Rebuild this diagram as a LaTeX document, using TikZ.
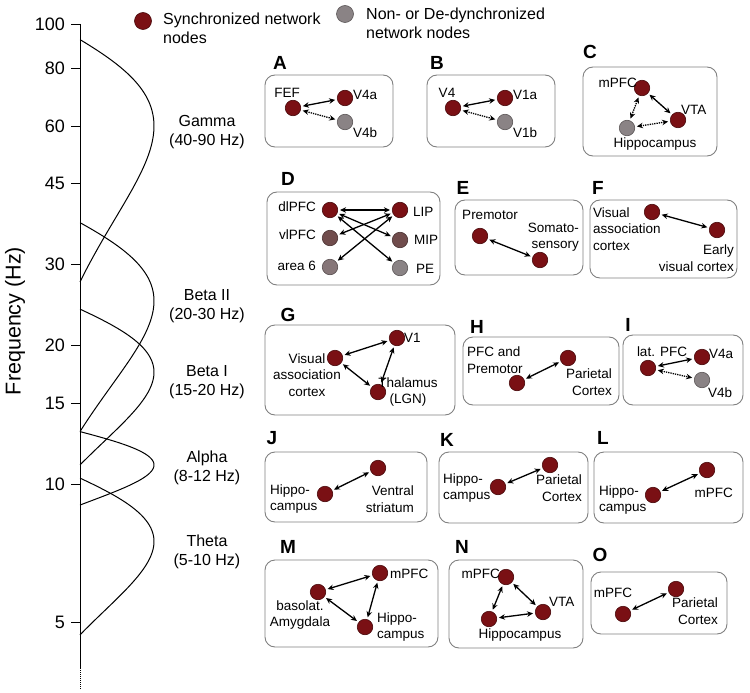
\documentclass[tikz,border=0pt]{standalone}
\usepackage{fontspec}
\setmainfont{Liberation Sans}
\usepackage{xcolor}
\definecolor{syncred}{RGB}{122,16,20}
\definecolor{syncedge}{RGB}{72,8,10}
\definecolor{desyncgray}{RGB}{138,131,133}
\definecolor{halfred}{RGB}{112,76,76}
\definecolor{halfgray}{RGB}{134,118,120}
\definecolor{framegray}{RGB}{128,128,128}
\usetikzlibrary{arrows.meta}

\begin{document}
\begin{tikzpicture}[x=1pt, y=-1pt,
  every node/.style={inner sep=0pt},
  txt/.style={font=\fontsize{13.5}{16.5}\selectfont},
  band/.style={font=\fontsize{16}{19}\selectfont, align=center},
  letter/.style={font=\fontsize{19}{19}\selectfont\bfseries},
  sync/.style={circle, fill=syncred, draw=syncedge, line width=0.6pt, minimum size=15.5pt},
  desync/.style={sync, fill=desyncgray, draw=desyncgray!65!black},
  frame/.style={draw=framegray, line width=0.9pt, rounded corners=10pt},
  link/.style={{Stealth[length=6pt,width=5.5pt]}-{Stealth[length=6pt,width=5.5pt]}, line width=1.3pt, shorten <=2pt, shorten >=2pt},
  dlink/.style={link, densely dotted},
  bump/.style={line width=1pt}]
  \useasboundingbox (0,0) rectangle (750,693);

  % frequency axis (log scale, 460 per decade)
  \draw[line width=1pt] (80,24) -- (80,668);
  \draw[line width=1pt, densely dotted] (80,668) -- (80,690);
  \foreach \f in {100,80,60,45,30,20,15,10,5} {
    \draw[line width=1pt] (71,{24+460*(2-log10(\f))}) -- (80,{24+460*(2-log10(\f))});
    \node[anchor=east, font=\fontsize{18}{18}\selectfont] (tick\f) at (65,{24+460*(2-log10(\f))}) {\f};
  }
  \node[rotate=90, font=\fontsize{21.5}{21.5}\selectfont] (ylab) at (15,321) {Frequency (Hz)};

  % band curves
  \foreach \fc/\hw in {60/32.5, 25/12, 17.5/6.5, 11/2, 7.5/2.8}
    \draw[bump] plot[domain=-1:1, samples=90, smooth, variable=\u] ({80+74*cos(90*\u)}, {24+460*(2-log10(\fc+\hw*\u))});

  \node[band] (gamma) at (207,132) {Gamma\\(40-90 Hz)};
  \node[band] (beta2) at (207,306) {Beta II\\(20-30 Hz)};
  \node[band] (beta1) at (207,382) {Beta I\\(15-20 Hz)};
  \node[band] (alpha) at (207,468) {Alpha\\(8-12 Hz)};
  \node[band] (theta) at (207,552) {Theta\\(5-10 Hz)};

  % legend
  \node[sync, minimum size=17pt] (legsync) at (143,21) {};
  \node[anchor=west, band, align=left] (legsynct) at (163,28) {Synchronized network\\nodes};
  \node[desync, minimum size=17pt] (legdesync) at (345,14) {};
  \node[anchor=west, band, align=left] (legdesynct) at (366,23) {Non- or De-dynchronized\\network nodes};

  % Panel A
  \draw[frame] (265,75) rectangle (393,147);
  \node[letter] (labA) at (280,63) {A};
  \node[sync] (fefA) at (293,108) {};
  \node[sync] (v4aA) at (345,98) {};
  \node[desync] (v4bA) at (345,122) {};
  \node[txt] (tfefA) at (287,93) {FEF};
  \node[txt, anchor=west] (tv4aA) at (353,95) {V4a};
  \node[txt, anchor=west] (tv4bA) at (353,133) {V4b};
  \draw[link] (fefA) -- (v4aA);
  \draw[dlink] (fefA) -- (v4bA);

  % Panel B
  \draw[frame] (427,75) rectangle (555,147);
  \node[letter] (labB) at (437,63) {B};
  \node[sync] (v4B) at (453,108) {};
  \node[sync] (v1aB) at (505,98) {};
  \node[desync] (v1bB) at (505,122) {};
  \node[txt] (tv4B) at (447,93) {V4};
  \node[txt, anchor=west] (tv1aB) at (513,95) {V1a};
  \node[txt, anchor=west] (tv1bB) at (513,133) {V1b};
  \draw[link] (v4B) -- (v1aB);
  \draw[dlink] (v4B) -- (v1bB);

  % Panel C
  \draw[frame] (583,67) rectangle (717,156);
  \node[letter] (labC) at (590,52) {C};
  \node[sync] (mpfcC) at (642,88) {};
  \node[sync] (vtaC) at (678,120) {};
  \node[desync] (hipC) at (627,128) {};
  \node[txt, anchor=east] (tmpfcC) at (637,83) {mPFC};
  \node[txt, anchor=west] (tvtaC) at (681,110) {VTA};
  \node[txt] (thipC) at (655,144) {Hippocampus};
  \draw[link] (mpfcC) -- (vtaC);
  \draw[dlink] (mpfcC) -- (hipC);
  \draw[dlink] (hipC) -- (vtaC);

  % Panel D
  \draw[frame] (267,192) rectangle (440,285);
  \node[letter] (labD) at (288,179) {D};
  \node[sync] (dlpfcD) at (330,210) {};
  \node[sync, fill=halfred, draw=halfred!65!black] (vlpfcD) at (330,238) {};
  \node[sync, fill=halfgray, draw=halfgray!65!black] (area6D) at (330,267) {};
  \node[sync] (lipD) at (400,210) {};
  \node[sync, fill=halfred, draw=halfred!65!black] (mipD) at (400,240) {};
  \node[desync] (peD) at (400,268) {};
  \node[txt, anchor=east] (tdlpfcD) at (316,207) {dlPFC};
  \node[txt, anchor=east] (tvlpfcD) at (316,235) {vlPFC};
  \node[txt, anchor=east] (tarea6D) at (316,266) {area 6};
  \node[txt, anchor=west] (tlipD) at (413,212) {LIP};
  \node[txt, anchor=west] (tmipD) at (414,240) {MIP};
  \node[txt, anchor=west] (tpeD) at (416,269) {PE};
  \draw[link] (dlpfcD) -- (lipD);
  \draw[link] (dlpfcD) -- (mipD);
  \draw[link] (dlpfcD) -- (peD);
  \draw[link] (lipD) -- (vlpfcD);
  \draw[link] (lipD) -- (area6D);

  % Panel E
  \draw[frame] (455,200) rectangle (583,275);
  \node[letter] (labE) at (463,188) {E};
  \node[sync] (premE) at (480,236) {};
  \node[sync] (somaE) at (540,260) {};
  \node[txt] (tpremE) at (490,215) {Premotor};
  \node[txt, anchor=east, align=right] (tsomaE) at (579,237) {Somato-\\sensory};
  \draw[link] (premE) -- (somaE);

  % Panel F
  \draw[frame] (590,200) rectangle (737,278);
  \node[letter] (labF) at (598,188) {F};
  \node[sync] (vassF) at (652,212) {};
  \node[sync] (earlyF) at (717,230) {};
  \node[txt, anchor=west, align=left] (tvassF) at (593,229) {Visual\\association\\cortex};
  \node[txt, anchor=east, align=right] (tearlyF) at (734,258) {Early\\visual cortex};
  \draw[link] (vassF) -- (earlyF);

  % Panel G
  \draw[frame] (265,325) rectangle (455,415);
  \node[letter] (labG) at (288,315) {G};
  \node[sync] (vassG) at (335,358) {};
  \node[sync] (v1G) at (397,338) {};
  \node[sync] (thalG) at (378,392) {};
  \node[txt, align=center] (tvassG) at (307,375) {Visual\\association\\cortex};
  \node[txt, anchor=west] (tv1G) at (404,338) {V1};
  \node[txt, align=center] (tthalG) at (408,392) {Thalamus\\(LGN)};
  \draw[link] (vassG) -- (v1G);
  \draw[link] (vassG) -- (thalG);
  \draw[link] (v1G) -- (thalG);

  % Panel H
  \draw[frame] (463,337) rectangle (619,405);
  \node[letter] (labH) at (477,327) {H};
  \node[sync] (pfcH) at (517,383) {};
  \node[sync] (parH) at (568,358) {};
  \node[txt, anchor=west, align=left] (tpfcH) at (467,360) {PFC and\\Premotor};
  \node[txt, anchor=east, align=right] (tparH) at (612,382) {Parietal\\Cortex};
  \draw[link] (pfcH) -- (parH);

  % Panel I
  \draw[frame] (623,335) rectangle (743,405);
  \node[letter] (labI) at (628,325) {I};
  \node[sync] (lpfcI) at (648,368) {};
  \node[sync] (v4aI) at (702,357) {};
  \node[desync] (v4bI) at (702,380) {};
  \node[txt] (tlpfcI) at (662,352) {lat. PFC};
  \node[txt, anchor=west] (tv4aI) at (709,354) {V4a};
  \node[txt, anchor=west] (tv4bI) at (708,393) {V4b};
  \draw[link] (lpfcI) -- (v4aI);
  \draw[dlink] (lpfcI) -- (v4bI);

  % Panel J
  \draw[frame] (265,452) rectangle (427,522);
  \node[letter] (labJ) at (272,438) {J};
  \node[sync] (hipJ) at (325,494) {};
  \node[sync] (vsJ) at (378,468) {};
  \node[txt, anchor=west, align=left] (thipJ) at (270,499) {Hippo-\\campus};
  \node[txt, anchor=east, align=right] (tvsJ) at (414,499) {Ventral\\striatum};
  \draw[link] (hipJ) -- (vsJ);

  % Panel K
  \draw[frame] (439,452) rectangle (588,523);
  \node[letter] (labK) at (447,440) {K};
  \node[sync] (hipK) at (498,487) {};
  \node[sync] (parK) at (550,465) {};
  \node[txt, anchor=west, align=left] (thipK) at (443,488) {Hippo-\\campus};
  \node[txt, anchor=east, align=right] (tparK) at (582,488) {Parietal\\Cortex};
  \draw[link] (hipK) -- (parK);

  % Panel L
  \draw[frame] (594,452) rectangle (743,523);
  \node[letter] (labL) at (603,438) {L};
  \node[sync] (hipL) at (653,495) {};
  \node[sync] (mpfcL) at (707,470) {};
  \node[txt, anchor=west, align=left] (thipL) at (599,500) {Hippo-\\campus};
  \node[txt, anchor=east] (tmpfcL) at (733,493) {mPFC};
  \draw[link] (hipL) -- (mpfcL);

  % Panel M
  \draw[frame] (265,560) rectangle (438,647);
  \node[letter] (labM) at (288,547) {M};
  \node[sync] (blaM) at (318,592) {};
  \node[sync] (mpfcM) at (380,573) {};
  \node[sync] (hipM) at (365,627) {};
  \node[txt, align=center] (tblaM) at (300,615) {basolat.\\Amygdala};
  \node[txt, anchor=west] (tmpfcM) at (390,574) {mPFC};
  \node[txt, anchor=west, align=left] (thipM) at (377,627) {Hippo-\\campus};
  \draw[link] (blaM) -- (mpfcM);
  \draw[link] (blaM) -- (hipM);
  \draw[link] (mpfcM) -- (hipM);

  % Panel N
  \draw[frame] (449,560) rectangle (583,648);
  \node[letter] (labN) at (462,547) {N};
  \node[sync] (mpfcN) at (506,577) {};
  \node[sync] (vtaN) at (543,612) {};
  \node[sync] (hipN) at (489,619) {};
  \node[txt, anchor=east] (tmpfcN) at (500,574) {mPFC};
  \node[txt, anchor=west] (tvtaN) at (549,602) {VTA};
  \node[txt] (thipN) at (520,635) {Hippocampus};
  \draw[link] (mpfcN) -- (vtaN);
  \draw[link] (mpfcN) -- (hipN);
  \draw[link] (hipN) -- (vtaN);

  % Panel O
  \draw[frame] (591,572) rectangle (727,634);
  \node[letter] (labO) at (600,555) {O};
  \node[sync] (mpfcO) at (623,614) {};
  \node[sync] (parO) at (676,589) {};
  \node[txt] (tmpfcO) at (613,593) {mPFC};
  \node[txt, anchor=east, align=right] (tparO) at (718,611) {Parietal\\Cortex};
  \draw[link] (mpfcO) -- (parO);
\end{tikzpicture}
\end{document}
